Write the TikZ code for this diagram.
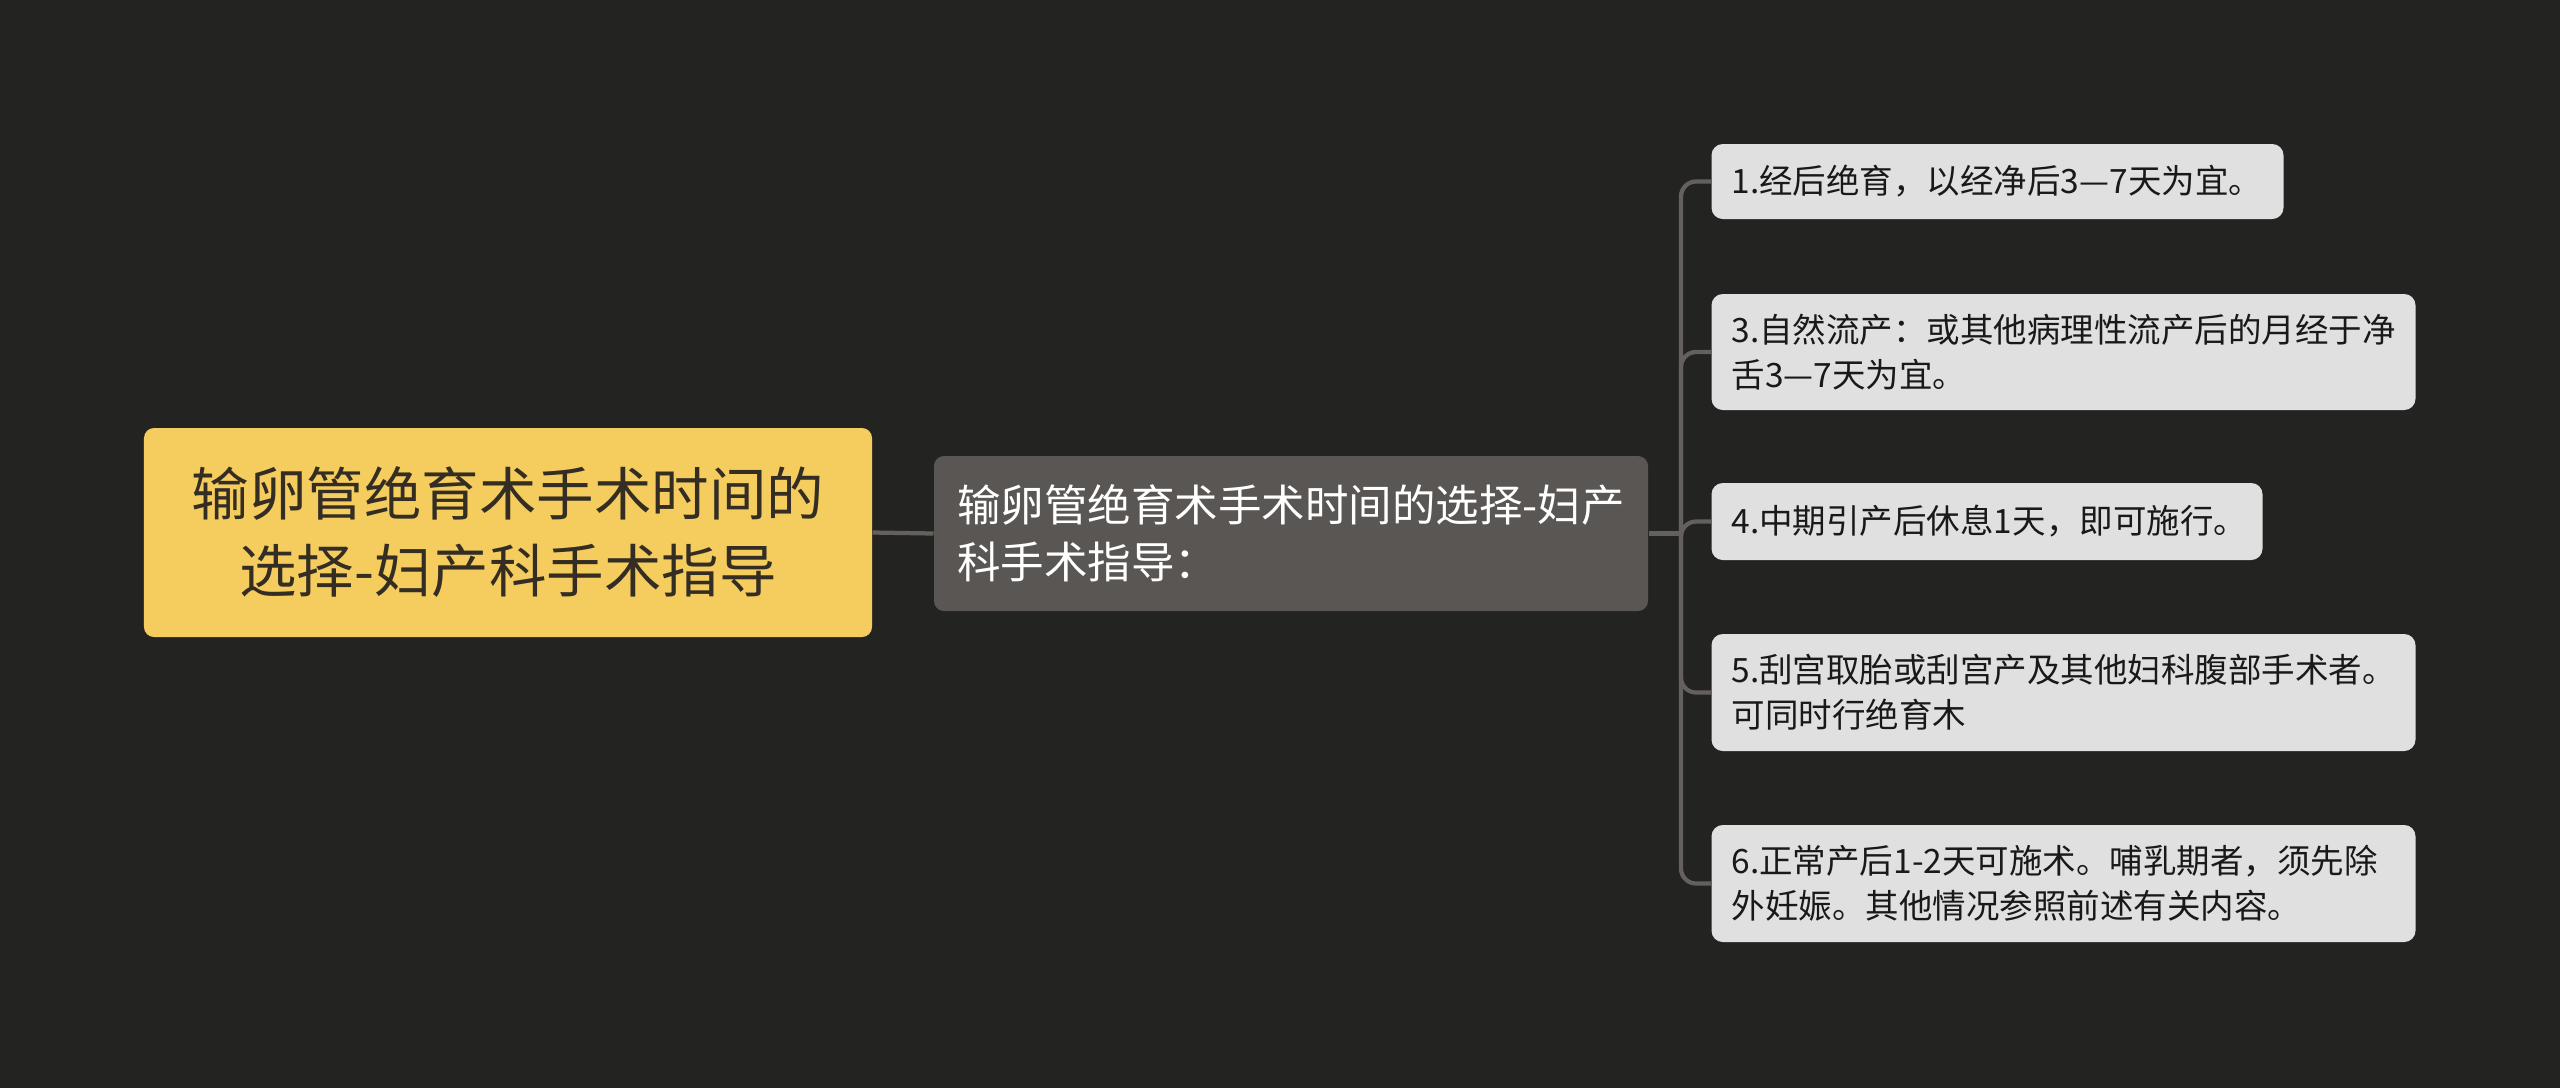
\documentclass[tikz,border=0pt]{standalone}
\usepackage{fontspec}
\setmainfont{Noto Sans CJK SC}
\definecolor{bgc}{RGB}{35,35,33}
\definecolor{rootc}{RGB}{245,204,94}
\definecolor{roottext}{RGB}{51,45,35}
\definecolor{midc}{RGB}{90,86,84}
\definecolor{leafc}{RGB}{224,224,224}
\definecolor{leaftext}{RGB}{25,25,25}
\definecolor{linec}{RGB}{100,96,94}
\begin{document}
\begin{tikzpicture}[x=0.4pt,y=-0.4pt,
  rootbox/.style={fill=rootc, rounded corners=4pt, text=roottext,
    font=\fontsize{23}{30.8}\selectfont, align=center,
    minimum width=291.2pt, minimum height=83.6pt, inner sep=0pt},
  midbox/.style={fill=midc, rounded corners=4pt, text=white,
    font=\fontsize{17.4}{22.8}\selectfont, align=left,
    minimum width=285.6pt, minimum height=62pt, inner xsep=9.2pt, inner ysep=0pt,
    text width=267.2pt},
  leafbox/.style={fill=leafc, rounded corners=4.5pt, text=leaftext,
    font=\fontsize{13.4}{18}\selectfont, align=left, anchor=west,
    inner xsep=8pt, inner ysep=0pt},
  conn/.style={draw=linec, line width=1.7pt},
]
\useasboundingbox (0,0) rectangle (2560,1088);
\fill[bgc] (0,0) rectangle (2560,1088);

\node[rootbox] (root) at (508,532.5) {输卵管绝育术手术时间的\\选择-妇产科手术指导};
\node[midbox] (mid) at (1291,533.5) {输卵管绝育术手术时间的选择-妇产\\科手术指导：};

\node[leafbox, minimum width=228.8pt, text width=212.8pt, minimum height=30pt] (n1) at (1711,181.5) {1.经后绝育，以经净后3—7天为宜。};
\node[leafbox, minimum width=281.6pt, text width=265.6pt, minimum height=46.4pt] (n3) at (1711,352) {3.自然流产：或其他病理性流产后的月经于净\\舌3—7天为宜。};
\node[leafbox, minimum width=220.4pt, text width=204.4pt, minimum height=30.8pt] (n4) at (1711,521.5) {4.中期引产后休息1天，即可施行。};
\node[leafbox, minimum width=281.6pt, text width=265.6pt, minimum height=46.8pt] (n5) at (1711,692.5) {5.刮宫取胎或刮宫产及其他妇科腹部手术者。\\可同时行绝育木};
\node[leafbox, minimum width=281.6pt, text width=265.6pt, minimum height=46.8pt] (n6) at (1711,883.5) {6.正常产后1-2天可施术。哺乳期者，须先除\\外妊娠。其他情况参照前述有关内容。};

\coordinate (tx) at (1681,0);
\coordinate (trunk) at (mid.east -| tx);
\draw[conn] (root.east) -- (mid.west);
\draw[conn] (mid.east) -- (trunk);
\foreach \n in {n1,n3,n4,n5,n6}
  \draw[conn, rounded corners=6pt] (trunk) |- (\n.west);
\end{tikzpicture}
\end{document}
